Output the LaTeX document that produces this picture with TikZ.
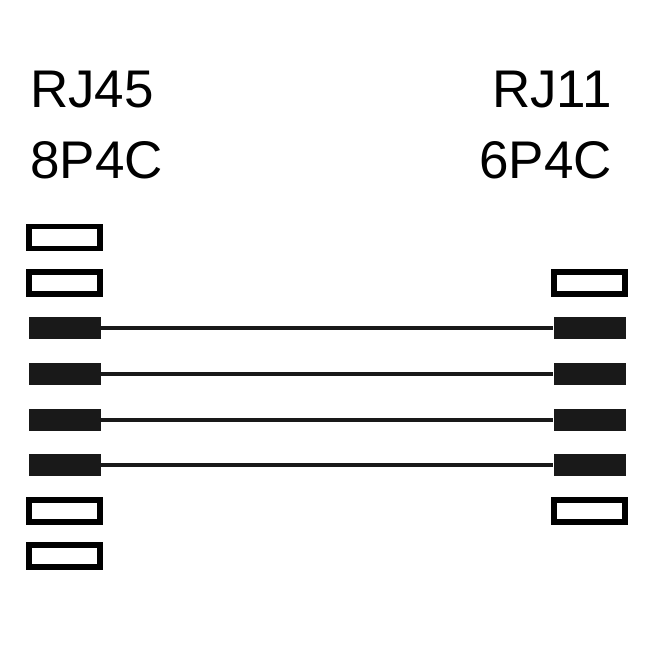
\documentclass[tikz,border=0pt]{standalone}
\usepackage{fontspec}
\setmainfont{Liberation Sans}
\begin{document}
\begin{tikzpicture}[x=1pt,y=-1pt,
  openpin/.style={draw=black,line width=5.5pt,fill=white,minimum width=71pt,minimum height=22pt,inner sep=0pt},
  fullpin/.style={fill=black!90,minimum width=72pt,minimum height=22pt,inner sep=0pt},
  wire/.style={line width=3.5pt,black!90},
  lbl/.style={font=\fontsize{53}{60}\selectfont,inner sep=0pt}]
\useasboundingbox (0,0) rectangle (650,650);
\node[lbl,anchor=base west] (l1) at (30,108) {RJ45};
\node[lbl,anchor=base west] (l2) at (30,178) {8P4C};
\node[lbl,anchor=base east] (r1) at (612,108) {RJ11};
\node[lbl,anchor=base east] (r2) at (612,178) {6P4C};
\node[openpin] (L1) at (64.5,237.5) {};
\node[openpin] (L2) at (64.5,283) {};
\node[fullpin] (L3) at (64.5,328) {};
\node[fullpin] (L4) at (64.5,374) {};
\node[fullpin] (L5) at (64.5,420) {};
\node[fullpin] (L6) at (64.5,465) {};
\node[openpin] (L7) at (64.5,511) {};
\node[openpin] (L8) at (64.5,556) {};
\node[openpin] (R1) at (589.5,283) {};
\node[fullpin] (R2) at (589.5,328) {};
\node[fullpin] (R3) at (589.5,374) {};
\node[fullpin] (R4) at (589.5,420) {};
\node[fullpin] (R5) at (589.5,465) {};
\node[openpin] (R6) at (589.5,511) {};
\draw[wire] (L3.east) -- (R2.west);
\draw[wire] (L4.east) -- (R3.west);
\draw[wire] (L5.east) -- (R4.west);
\draw[wire] (L6.east) -- (R5.west);
\end{tikzpicture}
\end{document}
